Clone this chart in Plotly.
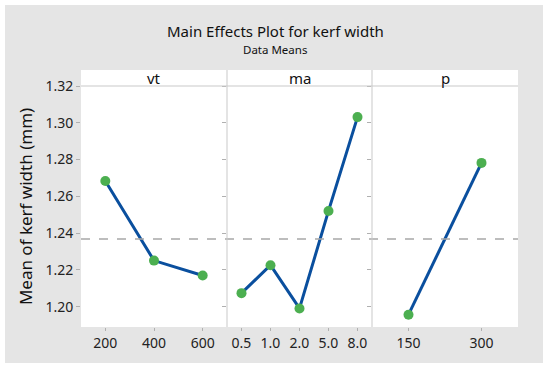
import plotly.graph_objects as go
from plotly.subplots import make_subplots

# ---- data ----
factors = ["vt", "ma", "p"]
vt_levels = ["200", "400", "600"]
vt_means = [1.2684, 1.2251, 1.2170]
ma_levels = ["0.5", "1.0", "2.0", "5.0", "8.0"]
ma_means = [1.2074, 1.2226, 1.1991, 1.2521, 1.3031]
p_levels = ["150", "300"]
p_means = [1.1957, 1.2782]
y_ticks = [1.20, 1.22, 1.24, 1.26, 1.28, 1.30, 1.32]
grand_mean = sum(vt_means) / len(vt_means)

W, H = 550, 371
ML, MR, MT, MB = 81, 32, 86, 44
PW, PH = W - ML - MR, H - MT - MB

def px(x):
    return (x - ML) / PW

def py(y):
    return (H - MB - y) / PH

FONT = "Noto Sans"
LINE = "#0a4f9e"
MARK = "#4caf50"
BG = "#e5e5e5"
DIV = "#c9c9c9"

fig = make_subplots(rows=1, cols=3, shared_yaxes=True, horizontal_spacing=0,
                    column_widths=[146, 145, 146])

groups = [(vt_levels, vt_means), (ma_levels, ma_means), (p_levels, p_means)]
for i, (lv, mv) in enumerate(groups, start=1):
    fig.add_trace(go.Scatter(x=lv, y=mv, mode="lines+markers",
                             line=dict(color=LINE, width=3),
                             marker=dict(color=MARK, size=10),
                             showlegend=False, hoverinfo="skip"), row=1, col=i)
    fig.update_xaxes(type="category", range=[-0.5, len(lv) - 0.5],
                     showgrid=False, zeroline=False, showline=False,
                     ticks="outside", ticklen=3, tickcolor="#b0b0b0",
                     tickfont=dict(family=FONT, size=14, color="#222"),
                     fixedrange=True, row=1, col=i)

fig.update_yaxes(range=[1.189, 1.32], tickvals=y_ticks,
                 ticktext=[f"{v:.2f}" for v in y_ticks],
                 showgrid=False, zeroline=False, showline=False,
                 ticks="outside", ticklen=4, tickcolor="#b0b0b0",
                 tickfont=dict(family=FONT, size=14, color="#222"))
fig.update_yaxes(title=dict(text="Mean of kerf width (mm)",
                            font=dict(family=FONT, size=17, color="#111"),
                            standoff=8), row=1, col=1)

shapes = []
# mean reference line
shapes.append(dict(type="line", xref="paper", yref="y", x0=0, x1=1,
                   y0=grand_mean, y1=grand_mean,
                   line=dict(color="#a8a8a8", width=1.3, dash="dash")))
# strip above panels
shapes.append(dict(type="rect", xref="paper", yref="paper", x0=0, x1=1,
                   y0=1, y1=py(70), fillcolor="white",
                   line=dict(width=0), layer="below"))
shapes.append(dict(type="line", xref="paper", yref="paper", x0=0, x1=1,
                   y0=1, y1=1, line=dict(color=DIV, width=1)))
# panel dividers
for xd in [227, 372]:
    shapes.append(dict(type="line", xref="paper", yref="paper",
                       x0=px(xd), x1=px(xd), y0=0, y1=py(70),
                       line=dict(color=DIV, width=1)))
# white outer frame
frame = [(0, 0, W, 5), (0, 0, 5, H), (543, 0, W, H), (0, 363, W, H)]
for (a, b, c, d) in frame:
    shapes.append(dict(type="rect", xref="paper", yref="paper",
                       x0=px(a), x1=px(c), y0=py(d), y1=py(b),
                       fillcolor="white", line=dict(width=0)))

annotations = [
    dict(text="Main Effects Plot for kerf width", x=px(275), y=py(31),
         xref="paper", yref="paper", showarrow=False, xanchor="center",
         yanchor="middle", font=dict(family=FONT, size=15, color="#111")),
    dict(text="Data Means", x=px(275), y=py(49), xref="paper", yref="paper",
         showarrow=False, xanchor="center", yanchor="middle",
         font=dict(family=FONT, size=11.5, color="#111")),
]
centers = [(81 + 227) / 2, (227 + 372) / 2, (372 + 518) / 2]
for name, cx in zip(factors, centers):
    annotations.append(dict(text=name, x=px(cx), y=py(78), xref="paper",
                            yref="paper", showarrow=False, xanchor="center",
                            yanchor="middle",
                            font=dict(family=FONT, size=15, color="#111")))

fig.update_layout(width=W, height=H, margin=dict(l=ML, r=MR, t=MT, b=MB),
                  paper_bgcolor=BG, plot_bgcolor="white",
                  shapes=shapes, annotations=annotations)

fig.write_html("out.html",
               config={"displayModeBar": False, "staticPlot": True},
               post_script="document.body.style.margin='0';")
